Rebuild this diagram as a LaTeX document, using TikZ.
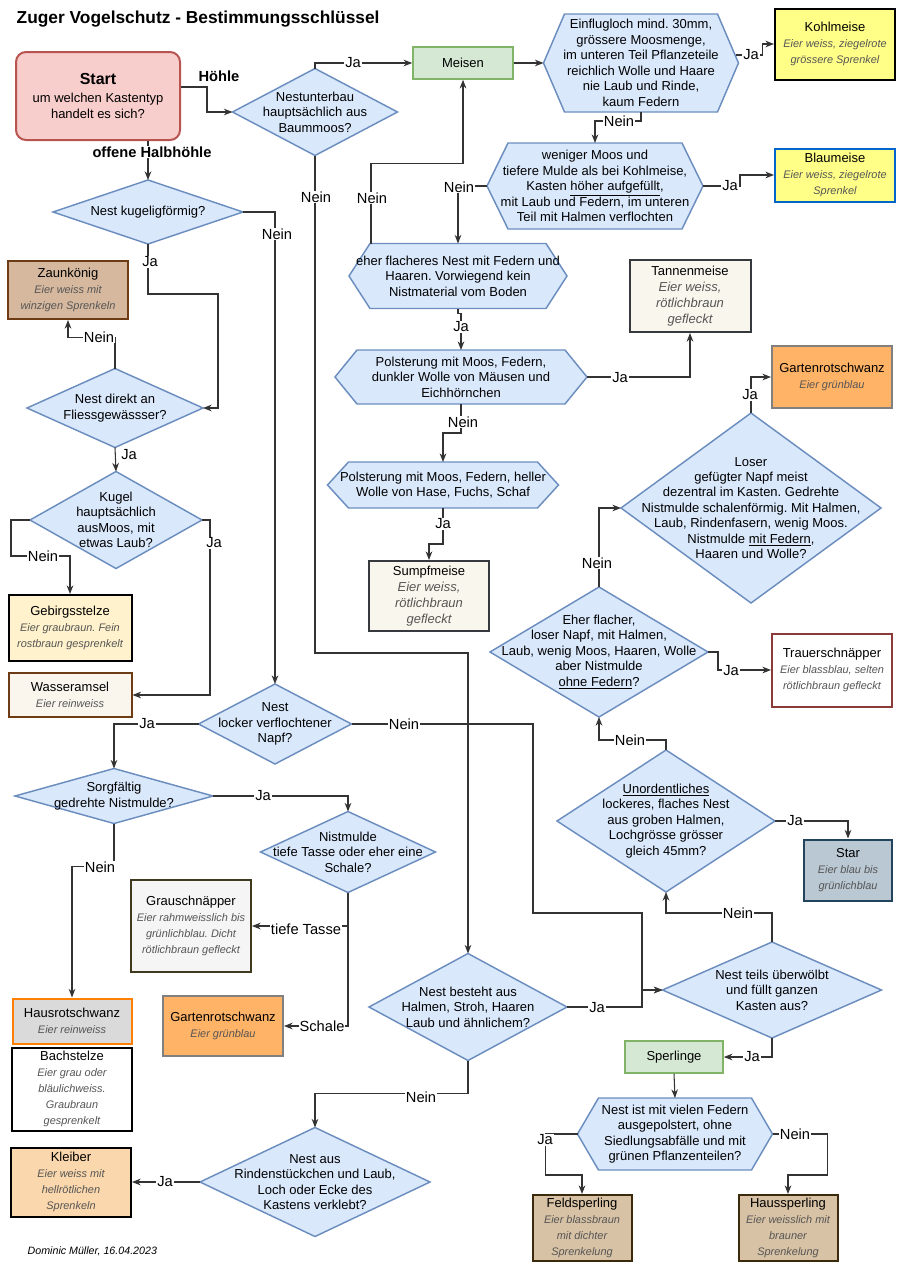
\documentclass[tikz,border=0pt]{standalone}
\usepackage{fontspec}
\setmainfont{Liberation Sans}
\usetikzlibrary{arrows.meta,calc}
\pgfdeclarelayer{background}
\pgfsetlayers{background,main}
\frenchspacing

\definecolor{qfill}{HTML}{DAE8FC}
\definecolor{qline}{HTML}{6C8EBF}
\definecolor{startfill}{HTML}{F8CECC}
\definecolor{startline}{HTML}{B85450}
\definecolor{grfill}{HTML}{D5E8D4}
\definecolor{grline}{HTML}{82B366}
\definecolor{gelb}{HTML}{FFFF88}
\definecolor{blauline}{HTML}{0066CC}
\definecolor{creme}{HTML}{F9F7ED}
\definecolor{cremeline}{HTML}{36393D}
\definecolor{braunfill}{HTML}{D6B89E}
\definecolor{braunline}{HTML}{6D3B14}
\definecolor{wasserfill}{HTML}{FAF6EE}
\definecolor{hellgelb}{HTML}{FFF2CC}
\definecolor{grau}{HTML}{DADADA}
\definecolor{orangeline}{HTML}{FF8000}
\definecolor{pfirsich}{HTML}{FAD7AC}
\definecolor{hellgrau}{HTML}{F5F5F5}
\definecolor{olivline}{HTML}{3F3A1E}
\definecolor{gartenfill}{HTML}{FFB366}
\definecolor{gartenline}{HTML}{808080}
\definecolor{starfill}{HTML}{BAC8D3}
\definecolor{starline}{HTML}{23445D}
\definecolor{trauerline}{HTML}{8B3A3A}
\definecolor{spatzfill}{HTML}{D8C2A5}
\definecolor{spatzline}{HTML}{3B2A0C}
\definecolor{eiertext}{HTML}{555555}
\definecolor{linie}{HTML}{333333}

\newcommand{\eier}[1]{{\fontsize{8.2}{12}\selectfont\itshape\color{eiertext}#1}}
\newcommand{\eiergross}[1]{{\itshape\color{eiertext}#1}}

\begin{document}
\begin{tikzpicture}[x=0.75pt,y=-0.75pt,
  sz/.style 2 args={minimum width=#1*0.75pt,minimum height=#2*0.75pt},
  frage/.style={rectangle,inner sep=0pt,outer sep=0pt,align=center,font=\fontsize{9.75}{11.6}\selectfont},
  form/.style={fill=qfill,draw=qline,line width=1.1pt},
  art/.style={rectangle,inner sep=0pt,line width=1.5pt,align=center,font=\fontsize{9.75}{12}\selectfont},
  gruppe/.style={rectangle,fill=grfill,draw=grline,line width=1.2pt,inner sep=0pt,font=\fontsize{9.75}{12}\selectfont},
  pfeil/.style={draw=linie,line width=0.8pt,-{Stealth[length=6.5pt,width=5pt]}},
  lab/.style={fill=white,inner sep=0.6pt,font=\fontsize{11}{13}\selectfont},
  labb/.style={lab,font=\fontsize{11}{13}\selectfont\bfseries}]
\useasboundingbox (0,0) rectangle (900,1274);

%titel
\node[anchor=west,font=\fontsize{13}{15}\selectfont\bfseries] (titel) at (12,19) {Zuger Vogelschutz - Bestimmungsschlüssel};
\node[anchor=west,font=\fontsize{8}{10}\selectfont\itshape] (autor) at (23,1251) {Dominic Müller, 16.04.2023};

%start
\node[art,sz={164}{88},fill=startfill,draw=startline,rounded corners=7.5pt] (start) at (98,96) {{\fontsize{12}{14}\selectfont\bfseries Start}\\[1pt]um welchen Kastentyp\\handelt es sich?};

%fragen (rauten)
\node[frage,sz={165}{87}] (baum) at (315,112) {Nestunterbau\\hauptsächlich aus\\Baummoos?};
\node[frage,sz={190}{64}] (kugel) at (148,212) {Nest kugeligförmig?};
\node[frage,sz={176}{79}] (fliess) at (115,408) {Nest direkt an\\Fliessgewässser?};
\node[frage,sz={172}{97}] (moos) at (116,520) {Kugel\\hauptsächlich\\ausMoos, mit\\etwas Laub?};
\node[frage,sz={153}{80}] (napf) at (275,724) {Nest\\locker verflochtener\\Napf?};
\node[frage,sz={198}{55}] (sorgfalt) at (114,796) {Sorgfältig\\gedrehte Nistmulde?};
\node[frage,sz={175}{81}] (mulde) at (348,852) {Nistmulde\\tiefe Tasse oder eher eine\\Schale?};
\node[frage,sz={230}{109}] (rinde) at (315,1182) {Nest aus\\Rindenstückchen und Laub,\\Loch oder Ecke des\\Kastens verklebt?};
\node[frage,sz={198}{107}] (besteht) at (468,1007) {Nest besteht aus\\Halmen, Stroh, Haaren\\Laub und ähnlichem?};
\node[frage,sz={219}{96}] (teils) at (772,990) {Nest teils überwölbt\\und füllt ganzen\\Kasten aus?};
\node[frage,sz={218}{142}] (unord) at (666,821) {\underline{Unordentliches}\\lockeres, flaches Nest\\aus groben Halmen,\\Lochgrösse grösser\\gleich 45mm?};
\node[frage,sz={218}{130}] (eher) at (599,652) {Eher flacher,\\loser Napf, mit Halmen,\\Laub, wenig Moos, Haaren, Wolle\\aber Nistmulde\\\underline{ohne Federn}?};
\node[frage,sz={260}{190}] (loser) at (751,508) {Loser\\gefügter Napf meist\\dezentral im Kasten. Gedrehte\\Nistmulde schalenförmig. Mit Halmen,\\Laub, Rindenfasern, wenig Moos.\\Nistmulde \underline{mit Federn},\\Haaren und Wolle?};

%fragen (sechsecke)
\node[frage,sz={195}{98}] (einflug) at (641,63) {Einflugloch mind. 30mm,\\grössere Moosmenge,\\im unteren Teil Pflanzeteile\\reichlich Wolle und Haare\\nie Laub und Rinde,\\kaum Federn};
\node[frage,sz={216}{86}] (weniger) at (595,186) {weniger Moos und\\tiefere Mulde als bei Kohlmeise,\\Kasten \underline{höher aufgefüllt},\\mit Laub und Federn, im unteren\\Teil mit Halmen verflochten};
\node[frage,sz={218}{65}] (flacher) at (458,276) {eher flacheres Nest mit Federn und\\Haaren. Vorwiegend kein\\Nistmaterial vom Boden};
\node[frage,sz={252}{54}] (dunkel) at (461,377) {Polsterung mit Moos, Federn,\\dunkler Wolle von Mäusen und\\Eichhörnchen};
\node[frage,sz={231}{46}] (hell) at (443,485) {Polsterung mit Moos, Federn, heller\\Wolle von Hase, Fuchs, Schaf};
\node[frage,sz={195}{72}] (federn) at (675,1134) {Nest ist mit vielen Federn\\ausgepolstert, ohne\\Siedlungsabfälle und mit\\grünen Pflanzenteilen?};

%gruppen
\node[gruppe,sz={100}{32}] (meisen) at (463,63) {Meisen};
\node[gruppe,sz={98}{32}] (sperlinge) at (674,1057) {Sperlinge};

%arten
\node[art,sz={120}{71},fill=gelb,draw=black] (kohlmeise) at (835,44) {Kohlmeise\\\eier{Eier weiss, ziegelrote}\\\eier{grössere Sprenkel}};
\node[art,sz={120}{53},fill=gelb,draw=blauline] (blaumeise) at (835,175) {Blaumeise\\\eier{Eier weiss, ziegelrote}\\\eier{Sprenkel}};
\node[art,sz={121}{72},fill=creme,draw=cremeline] (tannenmeise) at (690,296) {Tannenmeise\\\eiergross{Eier weiss,}\\\eiergross{rötlichbraun}\\\eiergross{gefleckt}};
\node[art,sz={120}{70},fill=creme,draw=cremeline] (sumpfmeise) at (429,596) {Sumpfmeise\\\eiergross{Eier weiss,}\\\eiergross{rötlichbraun}\\\eiergross{gefleckt}};
\node[art,sz={120}{58},fill=braunfill,draw=braunline] (zaunkoenig) at (68,290) {Zaunkönig\\\eier{Eier weiss mit}\\\eier{winzigen Sprenkeln}};
\node[art,sz={123}{66},fill=hellgelb,draw=black] (gebirgsstelze) at (70,628) {Gebirgsstelze\\\eier{Eier graubraun. Fein}\\\eier{rostbraun gesprenkelt}};
\node[art,sz={123}{44},fill=wasserfill,draw=braunline] (wasseramsel) at (70,695) {Wasseramsel\\\eier{Eier reinweiss}};
\node[art,sz={119}{45},fill=grau,draw=orangeline] (hausrot) at (72,1021) {Hausrotschwanz\\\eier{Eier reinweiss}};
\node[art,sz={120}{83},fill=white,draw=black] (bachstelze) at (72,1089) {Bachstelze\\\eier{Eier grau oder}\\\eier{bläulichweiss.}\\\eier{Graubraun}\\\eier{gesprenkelt}};
\node[art,sz={120}{69},fill=pfirsich,draw=black] (kleiber) at (71,1182) {Kleiber\\\eier{Eier weiss mit}\\\eier{hellrötlichen}\\\eier{Sprenkeln}};
\node[art,sz={120}{92},fill=hellgrau,draw=olivline] (grauschn) at (191,926) {Grauschnäpper\\\eier{Eier rahmweisslich bis}\\\eier{grünlichblau. Dicht}\\\eier{rötlichbraun gefleckt}};
\node[art,sz={120}{60},fill=gartenfill,draw=gartenline] (garten2) at (223,1026) {Gartenrotschwanz\\\eier{Eier grünblau}};
\node[art,sz={120}{62},fill=gartenfill,draw=gartenline] (garten1) at (832,377) {Gartenrotschwanz\\\eier{Eier grünblau}};
\node[art,sz={120}{73},fill=white,draw=trauerline] (trauer) at (832,670) {Trauerschnäpper\\\eier{Eier blassblau, selten}\\\eier{rötlichbraun gefleckt}};
\node[art,sz={88}{61},fill=starfill,draw=starline] (star) at (848,870) {Star\\\eier{Eier blau bis}\\\eier{grünlichblau}};
\node[art,sz={99}{66},fill=spatzfill,draw=spatzline] (feldsp) at (582,1228) {Feldsperling\\\eier{Eier blassbraun}\\\eier{mit dichter}\\\eier{Sprenkelung}};
\node[art,sz={99}{66},fill=spatzfill,draw=spatzline] (haussp) at (788,1228) {Haussperling\\\eier{Eier weisslich mit}\\\eier{brauner}\\\eier{Sprenkelung}};

%formen hinter den fragen
\begin{pgfonlayer}{background}
\foreach \n in {baum,kugel,fliess,moos,napf,sorgfalt,mulde,rinde,besteht,teils,unord,eher,loser}
  \draw[form] (\n.west) -- (\n.north) -- (\n.east) -- (\n.south) -- cycle;
\foreach \n/\s in {einflug/21,weniger/21,flacher/21,dunkel/22,hell/21,federn/21}
  \draw[form] (\n.west) -- ([xshift=\s*0.75pt]\n.north west) -- ([xshift=-\s*0.75pt]\n.north east) -- (\n.east) -- ([xshift=-\s*0.75pt]\n.south east) -- ([xshift=\s*0.75pt]\n.south west) -- cycle;
\end{pgfonlayer}

%start
\draw[pfeil] (start.east |- 0,87) -- (207,87) |- (baum.west);
\node[labb] (lHoehle) at (219,76) {Höhle};
\draw[pfeil] (start.south -| kugel.north) -- (kugel.north);
\node[labb] (lHalb) at (152,152) {offene Halbhöhle};

%hoehle
\draw[pfeil] (baum.north) |- (meisen.west);
\node[lab] (l1) at (353,63) {Ja};
\draw[pfeil] (meisen.east) -- (einflug.west);
\draw[pfeil] ($(einflug.east)+(-3,-8)$) -- ++(27,0) |- (kohlmeise.west);
\node[lab] (l2) at (751,55) {Ja};
\draw[pfeil] (einflug.south) -- ++(0,9) -| (weniger.north);
\node[lab] (l3) at (619,121) {Nein};
\draw[pfeil] (weniger.east) -- ++(37,0) |- (blaumeise.west);
\node[lab] (l4) at (730,186) {Ja};
\draw[pfeil] (weniger.west) -| (flacher.north);
\node[lab] (l5) at (459,187) {Nein};
\draw[pfeil] ($(flacher.north west)+(22,0)$) -- ++(0,-80) -| (meisen.south);
\node[lab] (l6) at (372,198) {Nein};
\draw[pfeil] (flacher.south) -- ++(0,5) -| (dunkel.north);
\node[lab] (l7) at (461,327) {Ja};
\draw[pfeil] (dunkel.east) -| (tannenmeise.south);
\node[lab] (l8) at (620,378) {Ja};
\draw[pfeil] (dunkel.south) -- ++(0,29) -| (hell.north);
\node[lab] (l9) at (463,422) {Nein};
\draw[pfeil] (hell.south) -- ++(0,36) -| (sumpfmeise.north);
\node[lab] (l10) at (443,524) {Ja};
\draw[pfeil] (baum.south) -- (baum.south |- 0,653) -| (besteht.north);
\node[lab] (l11) at (316,197) {Nein};

%halbhoehle
\draw[pfeil] (kugel.east) -| (napf.north);
\node[lab] (l12) at (277,234) {Nein};
\draw[pfeil] (kugel.south) |- (218,294) |- (fliess.east);
\node[lab] (l13) at (150,262) {Ja};
\draw[pfeil] (fliess.north) -- ++(0,-31) -| (zaunkoenig.south);
\node[lab] (l14) at (99,337) {Nein};
\draw[pfeil] (fliess.south) -- (moos.north);
\node[lab,fill=none] (l15) at (129,455) {Ja};
\draw[pfeil] (moos.west) -- ++(-19,0) |- (gebirgsstelze.north |- 0,556) -- (gebirgsstelze.north);
\node[lab] (l16) at (43,556) {Nein};
\draw[pfeil] (moos.east) -- ++(8,0) |- (wasseramsel.east);
\node[lab] (l17) at (214,543) {Ja};

%napf
\draw[pfeil] (napf.west) -| (sorgfalt.north);
\node[lab] (l18) at (147,724) {Ja};
\draw[pfeil] (napf.east) -| (533,913) -| (642,990) -- (teils.west);
\node[lab] (l19) at (404,724) {Nein};
\draw[pfeil] (besteht.east) -| (642,990) -- (teils.west);
\node[lab] (l20) at (597,1008) {Ja};
\draw[pfeil] (besteht.south) -- ++(0,33) -| (rinde.north);
\node[lab] (l21) at (421,1097) {Nein};
\draw[pfeil] (rinde.west) -- (kleiber.east);
\node[lab] (l22) at (165,1182) {Ja};
\draw[pfeil] (sorgfalt.east) -| (mulde.north);
\node[lab] (l23) at (263,796) {Ja};
\draw[pfeil] (sorgfalt.south) -- ++(0,43) -| (hausrot.north);
\node[lab] (l24) at (100,867) {Nein};
\draw[pfeil] (mulde.south) |- (grauschn.east);
\node[lab] (l25) at (306,929) {tiefe Tasse};
\draw[pfeil] (mulde.south) |- (garten2.east);
\node[lab] (l26) at (322,1026) {Schale};

%rechts
\draw[pfeil] (teils.north) -- ++(0,-29) -| (unord.south);
\node[lab] (l27) at (738,913) {Nein};
\draw[pfeil] (unord.east) -| (star.north);
\node[lab] (l28) at (795,821) {Ja};
\draw[pfeil] (unord.north) -- ++(0,-10) -| (eher.south);
\node[lab] (l29) at (630,740) {Nein};
\draw[pfeil] (eher.north) |- (loser.west);
\node[lab] (l30) at (597,563) {Nein};
\draw[pfeil] (eher.east) -- ++(10,0) |- (trauer.west);
\node[lab] (l31) at (731,671) {Ja};
\draw[pfeil] (loser.north) |- (garten1.west);
\node[lab] (l32) at (750,395) {Ja};
\draw[pfeil] (teils.south) |- (sperlinge.east);
\node[lab] (l33) at (752,1057) {Ja};
\draw[pfeil] (sperlinge.south) -- (federn.north);
\draw[pfeil] (federn.west) -- ++(-32,0) |- (feldsp.north |- 0,1175) -- (feldsp.north);
\node[lab] (l34) at (545,1140) {Ja};
\draw[pfeil] (federn.east) -- ++(55,0) |- (haussp.north |- 0,1175) -- (haussp.north);
\node[lab] (l35) at (795,1134) {Nein};
%fin
\end{tikzpicture}
\end{document}
